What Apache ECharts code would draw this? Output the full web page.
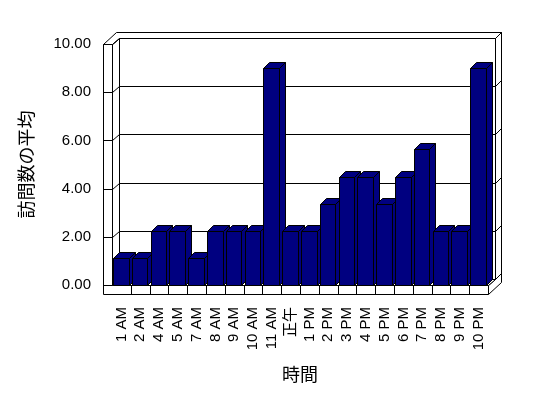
<!DOCTYPE html>
<html>
<head>
<meta charset="utf-8">
<script src="https://cdn.jsdelivr.net/npm/echarts@6/dist/echarts.min.js"></script>
<style>
html, body { margin: 0; padding: 0; background: #fff; }
#chart { width: 548px; height: 398px; }
</style>
</head>
<body>
<div id="chart"></div>
<script>
var hours = ['1 AM', '2 AM', '4 AM', '5 AM', '7 AM', '8 AM', '9 AM', '10 AM', '11 AM', '正午',
             '1 PM', '2 PM', '3 PM', '4 PM', '5 PM', '6 PM', '7 PM', '8 PM', '9 PM', '10 PM'];
var visits = [1.125, 1.125, 2.25, 2.25, 1.125, 2.25, 2.25, 2.25, 9, 2.25,
              2.25, 3.375, 4.5, 4.5, 3.375, 4.5, 5.625, 2.25, 2.25, 9];
var yTicks = [0, 2, 4, 6, 8, 10];

var FONT = '"Liberation Sans", "Noto Sans CJK JP", sans-serif';
var DX = 7, DY = -6;   // front -> back wall
var TX = 6, TY = -6;   // wall thickness
var SLAB = 9;          // floor / left wall slab

var chart = echarts.init(document.getElementById('chart'));

function px(v) { return Math.round(v) + 0.5; }

function poly(pts, fill) {
    return {
        type: 'polygon',
        shape: { points: pts.map(function (p) { return [px(p[0]), px(p[1])]; }) },
        style: { fill: fill, stroke: '#000', lineWidth: 1 }
    };
}

function line(x1, y1, x2, y2) {
    return {
        type: 'line',
        shape: { x1: px(x1), y1: px(y1), x2: px(x2), y2: px(y2) },
        style: { stroke: '#000', lineWidth: 1 }
    };
}

function renderFrame(params, api) {
    var cs = params.coordSys;
    var x0 = cs.x, x1 = cs.x + cs.width, yt = cs.y, yb = cs.y + cs.height;
    var lx = x0 - SLAB;
    var kids = [];
    // back wall
    kids.push(poly([[x0 + DX, yt + DY], [x1 + DX, yt + DY], [x1 + DX, yb + DY], [x0 + DX, yb + DY]], '#fff'));
    // left wall inner side
    kids.push(poly([[x0, yt], [x0 + DX, yt + DY], [x0 + DX, yb + DY], [x0, yb]], '#fff'));
    // top of left + back wall
    kids.push(poly([[lx, yt], [x0, yt], [x0 + DX, yt + DY], [x1 + DX, yt + DY],
                    [x1 + DX + TX, yt + DY + TY], [lx + DX + TX, yt + DY + TY]], '#fff'));
    // right side of back wall and floor
    kids.push(poly([[x1, yb], [x1 + DX, yb + DY], [x1 + DX, yt + DY], [x1 + DX + TX, yt + DY + TY],
                    [x1 + DX + TX, yb + SLAB + DY + TY], [x1, yb + SLAB]], '#fff'));
    // floor top
    kids.push(poly([[x0, yb], [x1, yb], [x1 + DX, yb + DY], [x0 + DX, yb + DY]], '#fff'));
    // front of left wall + floor
    kids.push(poly([[lx, yt], [x0, yt], [x0, yb], [x1, yb], [x1, yb + SLAB], [lx, yb + SLAB]], '#fff'));

    yTicks.forEach(function (v) {
        var y = api.coord([0, v])[1];
        kids.push(line(lx, y, x0, y));
        kids.push(line(x0, y, x0 + DX, y + DY));
        kids.push(line(x0 + DX, y + DY, x1 + DX, y + DY));
        kids.push(line(x1 + DX, y + DY, x1 + DX + TX, y + DY + TY));
    });

    var band = api.size([1, 0])[0];
    for (var i = 1; i < hours.length; i++) {
        var bx = api.coord([i, 0])[0] - band / 2;
        kids.push(line(bx, yb, bx, yb + SLAB));
    }
    return { type: 'group', children: kids };
}

function renderBar(params, api) {
    var i = api.value(0), v = api.value(1);
    var top = api.coord([i, v]), base = api.coord([i, 0]);
    var band = api.size([1, 0])[0];
    var w = band * 0.83;
    var left = top[0] - band / 2 + 1;
    var right = left + w;
    var bx = 6, by = -6;
    var fill = '#000080';
    return {
        type: 'group',
        children: [
            poly([[right, top[1]], [right + bx, top[1] + by], [right + bx, base[1] + by], [right, base[1]]], fill),
            poly([[left, top[1]], [left + bx, top[1] + by], [right + bx, top[1] + by], [right, top[1]]], fill),
            poly([[left, top[1]], [right, top[1]], [right, base[1]], [left, base[1]]], fill)
        ]
    };
}

var option = {
    animation: false,
    grid: { left: 112, top: 44, width: 376, height: 241 },
    xAxis: {
        type: 'category',
        data: hours,
        axisLine: { show: false },
        axisTick: { show: false },
        axisLabel: { rotate: 90, interval: 0, margin: 22, color: '#000', fontSize: 15, fontFamily: FONT },
        name: '時間',
        nameLocation: 'middle',
        nameGap: 82,
        nameTextStyle: { color: '#000', fontSize: 18, fontFamily: FONT }
    },
    yAxis: {
        type: 'value',
        min: 0,
        max: 10,
        interval: 2,
        axisLine: { show: false },
        axisTick: { show: false },
        splitLine: { show: false },
        axisLabel: {
            margin: 21, color: '#000', fontSize: 15, fontFamily: FONT,
            formatter: function (v) { return v.toFixed(2); }
        },
        name: '訪問数の平均',
        nameLocation: 'middle',
        nameRotate: 90,
        nameGap: 75,
        nameTextStyle: { color: '#000', fontSize: 18, fontFamily: FONT }
    },
    series: [
        {
            type: 'custom',
            z: 1,
            clip: false,
            silent: true,
            renderItem: renderFrame,
            data: [[0, 0]]
        },
        {
            type: 'custom',
            z: 2,
            clip: false,
            renderItem: renderBar,
            encode: { x: 0, y: 1 },
            data: hours.map(function (h, i) { return [i, visits[i]]; })
        }
    ]
};

chart.setOption(option);
</script>
</body>
</html>
